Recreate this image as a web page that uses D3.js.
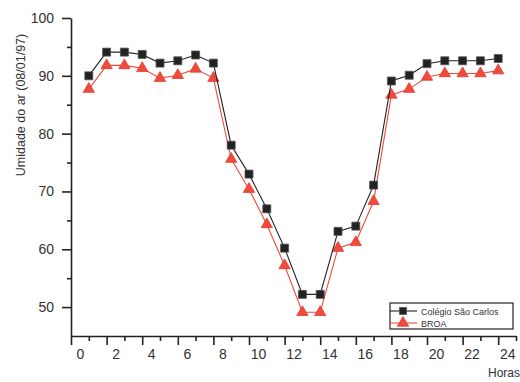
<!DOCTYPE html>
<html lang="pt">
<head>
    <meta charset="UTF-8">
    <title>Umidade do ar</title>
    <script src="https://d3js.org/d3.v7.min.js"></script>
    <style>
        body { margin: 0; background: #fff; }
        text { font-family: "Liberation Sans", Arial, sans-serif; fill: #333; }
    </style>
</head>
<body>
    <div id="chart"></div>
    <script>
        // Data
        const horas = d3.range(1, 25);
        const colegio = [90.0, 94.1, 94.1, 93.7, 92.2, 92.6, 93.6, 92.2, 78.0, 73.0, 67.0, 60.2,
                         52.2, 52.2, 63.1, 64.0, 71.1, 89.1, 90.1, 92.1, 92.6, 92.6, 92.6, 93.0];
        const broa = [87.7, 91.8, 91.8, 91.3, 89.6, 90.1, 91.2, 89.6, 75.6, 70.4, 64.3, 57.2,
                      49.1, 49.1, 60.2, 61.2, 68.3, 86.7, 87.7, 89.8, 90.4, 90.4, 90.4, 90.9];
        const xTicks = d3.range(0, 26, 1);
        const yTicks = d3.range(50, 101, 5);
        const seriesNames = ["Colégio São Carlos", "BROA"];

        const W = 520, H = 382;
        const margin = {top: 18, right: 4, bottom: 46, left: 71};
        const width = W - margin.left - margin.right;
        const height = H - margin.top - margin.bottom;

        const svg = d3.select("#chart").append("svg")
            .attr("width", W).attr("height", H);
        const g = svg.append("g")
            .attr("transform", `translate(${margin.left},${margin.top})`);

        const x = d3.scaleLinear().domain([0, 25]).range([0, width]);
        const y = d3.scaleLinear().domain([45, 100]).range([height, 0]);

        // X axis
        const xAxis = g.append("g")
            .attr("transform", `translate(0,${height})`)
            .call(d3.axisBottom(x).tickValues(xTicks).tickSizeOuter(0)
                .tickFormat(d => d % 2 === 0 ? d : ""));
        xAxis.selectAll(".tick line")
            .attr("y2", d => d % 2 === 0 ? 9 : 5);
        xAxis.selectAll(".tick text")
            .attr("dx", 9).attr("y", 13)
            .style("font-size", "14px");

        // Y axis
        const yAxis = g.append("g")
            .call(d3.axisLeft(y).tickValues(yTicks).tickSizeOuter(0)
                .tickFormat(d => d % 10 === 0 ? d : ""));
        yAxis.selectAll(".tick line")
            .attr("x2", d => d % 10 === 0 ? -9 : -4);
        yAxis.selectAll(".tick text")
            .attr("x", -17)
            .style("font-size", "14px");

        svg.selectAll(".domain, .tick line")
            .attr("stroke", "#222").attr("stroke-width", 1.6);

        // Axis titles
        svg.append("text")
            .attr("transform", `translate(25,${margin.top + 87}) rotate(-90)`)
            .attr("text-anchor", "middle")
            .style("font-size", "12.5px")
            .text("Umidade do ar (08/01/97)");
        svg.append("text")
            .attr("x", W).attr("y", H - 5)
            .attr("text-anchor", "end")
            .style("font-size", "12px")
            .text("Horas");

        const red = "#ef4a3c";
        const dark = "#222";

        function drawSeries(vals, color, shape, size, stroke) {
            const pts = horas.map((h, i) => [h, vals[i]]);
            g.append("path")
                .datum(pts)
                .attr("fill", "none")
                .attr("stroke", color)
                .attr("stroke-width", 1.1)
                .attr("d", d3.line().x(d => x(d[0])).y(d => y(d[1])));
            g.selectAll(null)
                .data(pts)
                .enter().append("path")
                .attr("transform", d => `translate(${x(d[0])},${y(d[1])})`)
                .attr("d", d3.symbol().type(shape).size(size))
                .attr("fill", color)
                .attr("stroke", stroke)
                .attr("stroke-width", 0.8);
        }

        drawSeries(broa, red, d3.symbolTriangle, 55, "#e23c30");
        drawSeries(colegio, dark, d3.symbolSquare, 64, "#555");

        // Legend
        const lg = svg.append("g").attr("transform", "translate(390,303)");
        lg.append("rect")
            .attr("width", 123).attr("height", 26)
            .attr("fill", "#fff").attr("stroke", "#222").attr("stroke-width", 1.2);
        const legendItems = [
            {name: seriesNames[0], color: dark, shape: d3.symbolSquare, size: 50, stroke: "#555"},
            {name: seriesNames[1], color: red, shape: d3.symbolTriangle, size: 55, stroke: "#e23c30"}
        ];
        legendItems.forEach((it, i) => {
            const row = lg.append("g").attr("transform", `translate(0,${8 + i * 12})`);
            row.append("line")
                .attr("x1", 0).attr("x2", 27)
                .attr("stroke", it.color).attr("stroke-width", 1.1);
            row.append("path")
                .attr("transform", "translate(13,0)")
                .attr("d", d3.symbol().type(it.shape).size(it.size))
                .attr("fill", it.color).attr("stroke", it.stroke).attr("stroke-width", 0.8);
            row.append("text")
                .attr("x", 31).attr("y", 3.5)
                .style("font-size", "9px")
                .text(it.name);
        });
    </script>
</body>
</html>
